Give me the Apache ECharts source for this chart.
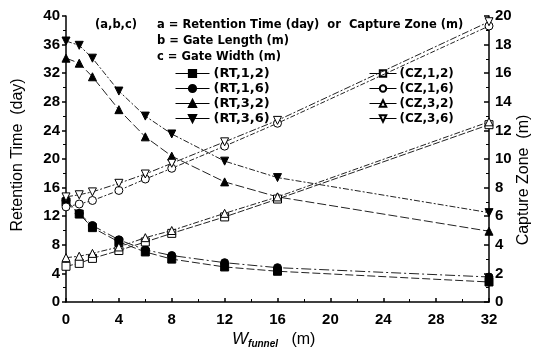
<!DOCTYPE html>
<html><head><meta charset="utf-8">
<script src="https://cdn.jsdelivr.net/npm/echarts@6/dist/echarts.min.js"></script>
<style>html,body{margin:0;padding:0;background:#fff}#c{width:537px;height:357px}</style>
</head><body><div id="c"></div>
<script>
var xValues = [0, 1, 2, 4, 6, 8, 12, 16, 32];
var rt12 = [14.0, 12.3, 10.4, 8.4, 7.0, 6.0, 4.9, 4.3, 2.8];
var rt16 = [14.2, 12.4, 10.7, 8.7, 7.3, 6.5, 5.5, 4.8, 3.5];
var rt32 = [34.1, 33.4, 31.5, 26.9, 23.1, 20.4, 16.8, 14.7, 9.9];
var rt36 = [36.5, 35.9, 34.1, 29.5, 26.0, 23.5, 19.7, 17.4, 12.5];
var cz12 = [2.5, 2.7, 3.05, 3.6, 4.2, 4.8, 5.95, 7.2, 12.4];
var cz16 = [6.65, 6.85, 7.1, 7.8, 8.6, 9.35, 10.9, 12.5, 19.3];
var cz32 = [3.1, 3.2, 3.4, 3.85, 4.5, 5.0, 6.2, 7.35, 12.6];
var cz36 = [7.35, 7.5, 7.7, 8.3, 8.95, 9.7, 11.2, 12.7, 19.6];
var seriesNames = ['(RT,1,2)', '(RT,1,6)', '(RT,3,2)', '(RT,3,6)', '(CZ,1,2)', '(CZ,1,6)', '(CZ,3,2)', '(CZ,3,6)'];

function pairs(arr) { return xValues.map(function (x, i) { return [x, arr[i]]; }); }
var downTri = 'path://M0,0 L10,0 L5,9 Z';
function mk(name, data, axis, symbol, filled, dash) {
  return {
    name: name, type: 'line', yAxisIndex: axis, data: pairs(data),
    symbol: symbol, symbolSize: 8,
    lineStyle: { color: '#222', width: 1, type: dash },
    itemStyle: { color: filled ? '#000' : '#fff', borderColor: '#000', borderWidth: 1 },
    emphasis: { disabled: true }, animation: false, z: filled ? 3 : 4
  };
}
var fontB = 'Liberation Sans';
var chart = echarts.init(document.getElementById('c'));
chart.setOption({
  animation: false,
  grid: { left: 66, right: 48, top: 16, bottom: 55 },
  xAxis: {
    type: 'value', min: 0, max: 32, interval: 4,
    axisLine: { show: true, lineStyle: { color: '#000', width: 1.5 } },
    axisTick: { show: true, inside: true, length: 4, lineStyle: { color: '#000', width: 1.5 } },
    minorTick: { show: true, splitNumber: 2, length: 3, lineStyle: { color: '#000' } },
    axisLabel: { color: '#000', fontFamily: fontB, fontWeight: 'bold', fontSize: 15, margin: 10 },
    splitLine: { show: false }
  },
  yAxis: [{
    type: 'value', min: 0, max: 40, interval: 4,
    axisLine: { show: true, lineStyle: { color: '#000', width: 1.5 } },
    axisTick: { show: true, inside: false, length: 4, lineStyle: { color: '#000', width: 1.5 } },
    minorTick: { show: true, splitNumber: 2, length: 3, lineStyle: { color: '#000' } },
    axisLabel: { color: '#000', fontFamily: fontB, fontWeight: 'bold', fontSize: 15, margin: 6 },
    splitLine: { show: false }
  }, {
    type: 'value', min: 0, max: 20, interval: 2, position: 'right',
    axisLine: { show: true, lineStyle: { color: '#000', width: 1.5 } },
    axisTick: { show: true, inside: true, length: 5, lineStyle: { color: '#000', width: 1.5 } },
    minorTick: { show: true, splitNumber: 2, length: 3, lineStyle: { color: '#000' } },
    axisLabel: { color: '#000', fontFamily: fontB, fontWeight: 'bold', fontSize: 15, margin: 6 },
    splitLine: { show: false }
  }],
  legend: [{
    data: seriesNames.slice(0, 4), orient: 'vertical', left: 175, top: 66,
    itemWidth: 34, itemHeight: 9, itemGap: 0, padding: 0,
    lineStyle: { type: 'solid', width: 1, color: '#000' },
    textStyle: { fontFamily: 'DejaVu Sans', fontWeight: 'bold', fontSize: 13, color: '#000', lineHeight: 15, padding: [0, 0, 0, -1] },
    selectedMode: false
  }, {
    data: seriesNames.slice(4), orient: 'vertical', left: 369, top: 66,
    itemWidth: 27, itemHeight: 8, itemGap: 0, padding: 0,
    lineStyle: { type: 'solid', width: 1, color: '#000' },
    textStyle: { fontFamily: 'DejaVu Sans', fontWeight: 'bold', fontSize: 12, color: '#000', lineHeight: 15, padding: [0, 0, 0, -2] },
    selectedMode: false
  }],
  graphic: [
    { type: 'text', left: 95, top: 19, style: { text: '(a,b,c)', font: 'bold 11.5px "DejaVu Sans"', fill: '#000' } },
    { type: 'text', left: 157, top: 19, style: { text: 'a = Retention Time (day)  or  Capture Zone (m)', font: 'bold 11.5px "DejaVu Sans"', fill: '#000' } },
    { type: 'text', left: 157, top: 35, style: { text: 'b = Gate Length (m)', font: 'bold 11.5px "DejaVu Sans"', fill: '#000' } },
    { type: 'text', left: 157, top: 51, style: { text: 'c = Gate Width (m)', font: 'bold 11.5px "DejaVu Sans"', fill: '#000' } },
    { type: 'text', x: 18, y: 155, rotation: Math.PI / 2,
      style: { text: 'Retention Time  (day)', font: '16px "Liberation Sans"', fill: '#000', align: 'center', verticalAlign: 'middle' } },
    { type: 'text', x: 524, y: 180, rotation: Math.PI / 2,
      style: { text: 'Capture Zone  (m)', font: '16px "Liberation Sans"', fill: '#000', align: 'center', verticalAlign: 'middle' } },
    { type: 'text', x: 232, y: 331,
      style: { text: '{w|W}{s|funnel}{m|   (m)}', rich: {
        w: { font: 'italic 17px "Liberation Sans"', fill: '#000', verticalAlign: 'top' },
        s: { font: 'bold italic 10px "Liberation Sans"', fill: '#000', padding: [8, 0, 0, 0] },
        m: { font: '16px "Liberation Sans"', fill: '#000' } } } }
  ],
  series: [
    mk(seriesNames[0], rt12, 0, 'rect', true, [8, 3]),
    mk(seriesNames[1], rt16, 0, 'circle', true, [10, 3, 2, 3]),
    mk(seriesNames[2], rt32, 0, 'triangle', true, [9, 3]),
    mk(seriesNames[3], rt36, 0, downTri, true, [6, 2, 2, 2]),
    mk(seriesNames[4], cz12, 1, 'rect', false, [7, 2]),
    mk(seriesNames[5], cz16, 1, 'circle', false, [5, 2, 2, 2]),
    mk(seriesNames[6], cz32, 1, 'triangle', false, [6, 2, 2, 2]),
    mk(seriesNames[7], cz36, 1, downTri, false, [7, 2, 2, 2])
  ]
});
</script></body></html>
